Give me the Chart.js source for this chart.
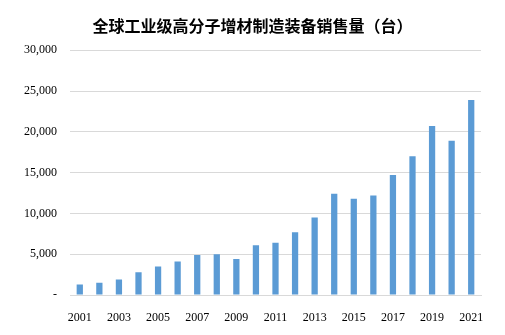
<!DOCTYPE html>
<html>
<head>
<meta charset="utf-8">
<script src="https://cdn.jsdelivr.net/npm/chart.js@4"></script>
<style>
  html, body { margin: 0; padding: 0; background: #fff; }
  #wrap { width: 505px; height: 335px; }
</style>
</head>
<body>
<div id="wrap"><canvas id="salesChart"></canvas></div>
<script>
// 年份与销售量（台）
const years = ['2001', '2002', '2003', '2004', '2005', '2006', '2007', '2008', '2009', '2010',
               '2011', '2012', '2013', '2014', '2015', '2016', '2017', '2018', '2019', '2020', '2021'];
const sales = [1300, 1500, 1900, 2800, 3500, 4100, 4900, 5000, 4400, 6100,
               6400, 7700, 9500, 12400, 11800, 12200, 14700, 17000, 20700, 18900, 23900];
const yTicks = [0, 5000, 10000, 15000, 20000, 25000, 30000];

const serif = "'Liberation Serif', 'Times New Roman', serif";

const ctx = document.getElementById('salesChart').getContext('2d');
new Chart(ctx, {
    type: 'bar',
    data: {
        labels: years,
        datasets: [{
            data: sales,
            backgroundColor: '#5b9bd5',
            borderWidth: 0,
            categoryPercentage: 1,
            barPercentage: 0.32
        }]
    },
    options: {
        responsive: true,
        maintainAspectRatio: false,
        animation: false,
        // 左右留白相同，标题居中于整个画布
        layout: { padding: { left: 24, right: 24, top: 0, bottom: 0 } },
        plugins: {
            legend: { display: false },
            tooltip: { enabled: false },
            title: {
                display: true,
                text: '全球工业级高分子增材制造装备销售量（台）',
                color: '#000',
                font: { family: "'Noto Sans CJK SC', sans-serif", size: 16, weight: 'bold' },
                padding: { top: 16, bottom: 15 }
            }
        },
        scales: {
            x: {
                grid: { display: false },
                border: { display: true, color: '#d9d9d9' },
                ticks: {
                    autoSkip: false,
                    maxRotation: 0,
                    padding: 8,
                    color: '#000',
                    font: { family: serif, size: 12 },
                    // 隔年显示
                    callback: (v, i) => i % 2 === 0 ? years[i] : ''
                },
                afterFit: scale => { scale.height = 40; }
            },
            y: {
                min: 0,
                max: 30000,
                afterBuildTicks: scale => { scale.ticks = yTicks.map(v => ({ value: v })); },
                grid: { color: '#d9d9d9', lineWidth: 1, drawTicks: false },
                border: { display: false },
                ticks: {
                    padding: 13,
                    color: '#000',
                    font: { family: serif, size: 12 },
                    callback: v => v === 0 ? '-' : v.toLocaleString('en-US')
                },
                afterFit: scale => { scale.width = 46; }
            }
        }
    }
});
</script>
</body>
</html>
